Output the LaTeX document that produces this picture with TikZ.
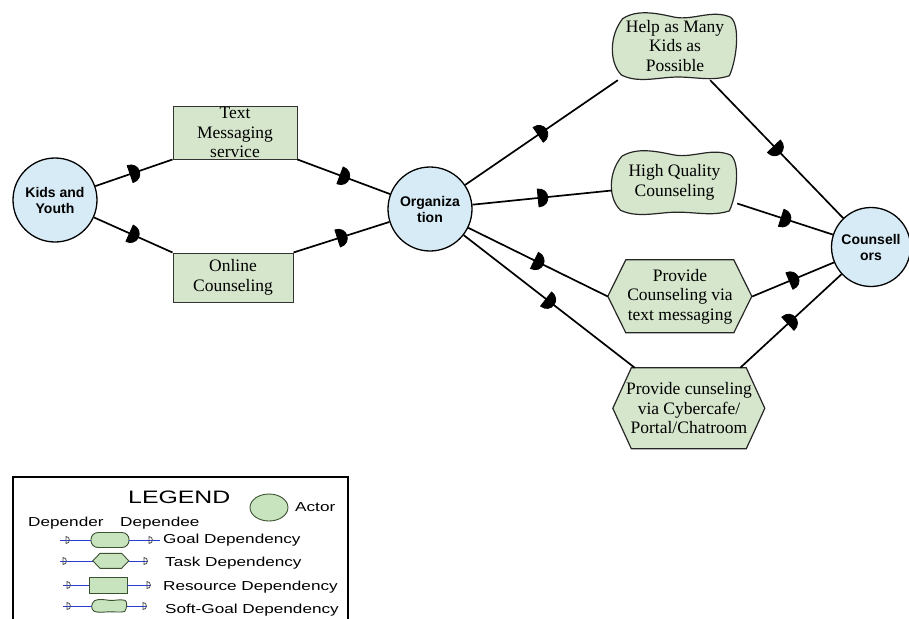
\documentclass[tikz,border=0pt]{standalone}
\usepackage{fontspec}
\usepackage{graphicx}
\setmainfont{Liberation Serif}
\newfontfamily\labelsans{Liberation Sans}
\usetikzlibrary{decorations.markings,backgrounds,shapes.geometric}

\definecolor{actorblue}{RGB}{214,235,245}
\definecolor{elemgreen}{RGB}{214,230,204}
\definecolor{leggreen}{RGB}{200,228,190}
\definecolor{legedge}{RGB}{60,80,50}
\definecolor{legblue}{RGB}{40,60,210}

% soft-goal outline drawn behind a node of the given width and height
\newcommand\sgoutline[4]{%
  \begin{scope}[on background layer, shift={(#1.north west)}, xscale=#2, yscale=#3]
    \path[#4] (0.08,0.1) .. controls (0.2,-0.04) and (0.35,0.02) .. (0.5,0.08)
      .. controls (0.65,0.13) and (0.8,-0.04) .. (0.95,0.08)
      .. controls (1.03,0.2) and (1.0,0.7) .. (0.94,0.94)
      .. controls (0.8,1.03) and (0.65,0.95) .. (0.5,0.96)
      .. controls (0.35,0.97) and (0.2,1.05) .. (0.07,0.93)
      .. controls (-0.03,0.75) and (-0.03,0.35) .. (0.08,0.1) -- cycle;
  \end{scope}}
% task (hexagon) outline drawn behind a node; #4 = inset fraction
\newcommand\hexoutline[5]{%
  \begin{scope}[on background layer, shift={(#1.north west)}, xscale=#2, yscale=#3]
    \path[#5] (#4,0) -- ({1-#4},0) -- (1,0.5) -- ({1-#4},1) -- (#4,1) -- (0,0.5) -- cycle;
  \end{scope}}
% small open dependency mark used in the legend
\newcommand\legD[2]{%
  \draw[black!70, line width=0.8pt] (#1,#2) ++(0pt,3.5pt)
    .. controls +(4.5pt,0pt) and +(4.5pt,0pt) .. ++(0pt,-7pt) -- cycle;}
% horizontally stretched legend lettering
\newcommand\hs[1]{\scalebox{1.32}[1]{#1}}

\tikzset{
  actor/.style={circle, draw=black, line width=1.3pt, fill=actorblue,
    minimum size=84pt, inner sep=0pt, align=center,
    font=\labelsans\bfseries\fontsize{14}{16}\selectfont},
  resource/.style={rectangle, draw=black!80, line width=1pt, fill=elemgreen,
    inner sep=0pt, align=center, font=\fontsize{17.5}{19.5}\selectfont},
  elemtext/.style={inner sep=0pt, align=center, font=\fontsize{17.5}{19.5}\selectfont},
  elemshape/.style={draw=black!85, line width=1.2pt, fill=elemgreen},
  dep/.style={line width=1.7pt, postaction={decorate, decoration={markings,
    mark=at position 0.5 with {\filldraw[line width=0.8pt, line join=round]
      (-4pt,-9pt) .. controls (9pt,-9pt) and (9pt,9pt) .. (-4pt,9pt) -- cycle;}}}},
  legtext/.style={inner sep=0pt, anchor=base west,
    font=\labelsans\fontsize{13}{15}\selectfont},
  legshape/.style={draw=legedge, line width=0.9pt, fill=leggreen},
  legbox/.style={inner sep=0pt},
  legwire/.style={draw=legblue, line width=0.8pt},
}

\begin{document}
\begin{tikzpicture}[x=1pt, y=-1pt]
\useasboundingbox (0,0) rectangle (909,618);

% actors
\node[actor] (kids) at (55,200) {Kids and\\Youth};
\node[actor] (org) at (430,209) {Organiza\\tion};
\node[actor, minimum size=79pt] (couns) at (871,247) {Counsell\\ors};

% resources
\node[resource, minimum width=124pt, minimum height=53pt] (textmsg) at (235,132.5)
  {Text\\Messaging\\service};
\node[resource, minimum width=120pt, minimum height=49pt] (online) at (233,277.5)
  {Online\\Counseling};

% soft goals
\node[elemtext, minimum width=124pt, minimum height=68pt] (help) at (675,46)
  {Help as Many\\Kids as\\Possible};
\sgoutline{help}{124}{68}{elemshape}
\node[elemtext, minimum width=125pt, minimum height=65pt] (highq) at (674.5,182.5)
  {High Quality\\Counseling};
\sgoutline{highq}{125}{65}{elemshape}

% tasks
\node[elemtext, minimum width=144pt, minimum height=73pt] (ptext) at (680,296.5)
  {Provide\\Counseling via\\text messaging};
\hexoutline{ptext}{144}{73}{0.125}{elemshape}
\node[elemtext, minimum width=152pt, minimum height=81pt] (cyber) at (689,408.5)
  {Provide cunseling\\via Cybercafe/\\Portal/Chatroom};
\hexoutline{cyber}{152}{81}{0.122}{elemshape}

% dependencies
\draw[dep] (kids) -- (textmsg.south west);
\draw[dep] (textmsg.south east) -- (org);
\draw[dep] (kids) -- (online.north west);
\draw[dep] (online.north east) -- (org);
\draw[dep] (org) -- ([xshift=5pt]help.south west);
\draw[dep] ([xshift=-27pt]help.south east) -- (couns);
\draw[dep] (org) -- ([yshift=-8pt]highq.west);
\draw[dep] ([yshift=-21pt]highq.east) -- (couns);
\draw[dep] (org) -- (ptext.west);
\draw[dep] (ptext.east) -- (couns);
\draw[dep] (org) -- ([xshift=22pt]cyber.north west);
\draw[dep] ([xshift=-25pt]cyber.north east) -- (couns);

% legend frame
\draw[line width=1.8pt] (13,630) -- (13,477) -- (348,477) -- (348,630);

\node[legtext, font=\labelsans\fontsize{18}{20}\selectfont] (lgtitle) at (128,503) {\scalebox{1.38}[1]{LEGEND}};
\node[legshape, ellipse, minimum width=38pt, minimum height=27pt, inner sep=0pt]
  (lgactor) at (269,507.5) {};
\node[legtext] (lgactortxt) at (295,511) {\hs{Actor}};
\node[legtext] (lgdepender) at (28,526) {\hs{Depender}};
\node[legtext] (lgdependee) at (120,526) {\hs{Dependee}};

% goal dependency row
\coordinate (ga) at (60,540);
\coordinate (gb) at (160,540);
\node[legshape, rounded corners=7pt, minimum width=38pt, minimum height=15pt, inner sep=0pt]
  (lgoal) at (110,540) {};
\draw[legwire] (ga) -- (lgoal);
\draw[legwire] (lgoal) -- (gb);
\legD{66}{540}
\legD{149}{540}
\node[legtext] (lgoaltxt) at (163,543.5) {\hs{Goal Dependency}};

% task dependency row
\coordinate (ta) at (60,561);
\coordinate (tb) at (148,561);
\node[legbox, minimum width=36pt, minimum height=15pt] (ltask) at (111,561) {};
\hexoutline{ltask}{36}{15}{0.2}{legshape}
\draw[legwire] (ta) -- (ltask);
\draw[legwire] (ltask) -- (tb);
\legD{63}{561}
\legD{144}{561}
\node[legtext] (ltasktxt) at (165,566) {\hs{Task Dependency}};

% resource dependency row
\coordinate (ra) at (63,585);
\coordinate (rb) at (151,585);
\node[legshape, minimum width=38pt, minimum height=16pt, inner sep=0pt]
  (lres) at (108,585) {};
\draw[legwire] (ra) -- (lres);
\draw[legwire] (lres) -- (rb);
\legD{67}{585}
\legD{147}{585}
\node[legtext] (lrestxt) at (163,590) {\hs{Resource Dependency}};

% soft-goal dependency row
\coordinate (sa) at (63,606);
\coordinate (sb) at (147,606);
\node[legbox, minimum width=35pt, minimum height=13pt] (lsoft) at (109.5,606) {};
\sgoutline{lsoft}{35}{13}{legshape}
\draw[legwire] (sa) -- (lsoft);
\draw[legwire] (lsoft) -- (sb);
\legD{67}{606}
\legD{143}{606}
\node[legtext] (lsofttxt) at (165,613) {\hs{Soft-Goal Dependency}};
\end{tikzpicture}
\end{document}
